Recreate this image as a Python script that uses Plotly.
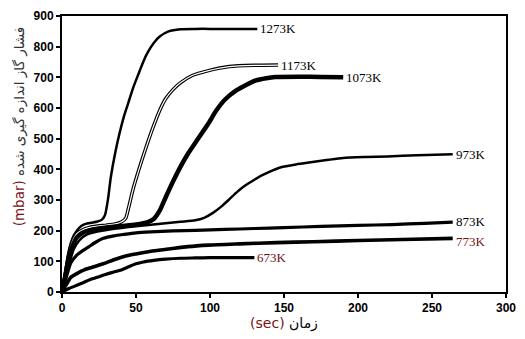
import plotly.graph_objects as go

# ---- data (time in sec, pressure in mbar) ----
x_1273 = [0, 2, 4, 6, 8, 10, 13, 16, 20, 24, 27, 29, 31, 33, 36, 39, 42, 45, 48, 52, 55, 58, 62, 66, 72, 80, 90, 100, 115, 132]
y_1273 = [0, 60, 120, 160, 185, 200, 215, 222, 226, 230, 236, 250, 300, 375, 455, 520, 575, 620, 665, 715, 752, 782, 812, 833, 850, 857, 858, 858, 858, 858]

x_1173 = [0, 2, 4, 6, 8, 10, 14, 18, 24, 30, 36, 40, 43, 45, 48, 52, 56, 61, 66, 70, 75, 80, 88, 99, 113, 130, 146]
y_1173 = [0, 55, 110, 150, 175, 190, 203, 210, 215, 218, 222, 228, 240, 275, 335, 400, 460, 530, 592, 630, 660, 682, 706, 722, 735, 739, 740]

x_1073 = [0, 2, 4, 6, 8, 10, 14, 18, 24, 30, 40, 50, 58, 62, 66, 70, 75, 80, 85, 91, 99, 104, 110, 118, 125, 131, 138, 144, 160, 175, 190]
y_1073 = [0, 45, 95, 135, 160, 178, 193, 200, 206, 210, 215, 220, 228, 238, 265, 308, 360, 408, 450, 493, 550, 590, 627, 658, 677, 690, 697, 701, 702, 701, 700]

x_973 = [0, 2, 5, 8, 12, 17, 25, 32, 40, 50, 60, 70, 80, 90, 96, 102, 108, 113, 118, 124, 130, 135, 142, 148, 158, 168, 180, 190, 205, 220, 240, 264]
y_973 = [0, 40, 95, 140, 170, 188, 198, 204, 209, 214, 219, 224, 229, 234, 242, 258, 280, 302, 325, 348, 366, 380, 396, 407, 416, 423, 431, 437, 440, 442, 446, 449]

x_873 = [0, 3, 6, 10, 14, 18, 23, 28, 35, 42, 50, 60, 75, 90, 110, 130, 150, 175, 200, 223, 245, 264]
y_873 = [0, 50, 95, 120, 135, 147, 163, 175, 183, 188, 193, 196, 199, 201, 204, 207, 210, 214, 217, 220, 224, 228]

x_773 = [0, 3, 6, 10, 15, 20, 28, 35, 42, 50, 60, 72, 85, 99, 120, 145, 170, 200, 230, 264]
y_773 = [0, 25, 48, 60, 72, 80, 92, 105, 116, 124, 133, 140, 148, 153, 157, 161, 164, 168, 171, 175]

x_673 = [0, 5, 10, 15, 20, 25, 30, 35, 40, 45, 50, 55, 62, 70, 80, 90, 100, 115, 130]
y_673 = [0, 12, 22, 32, 42, 50, 58, 65, 72, 82, 92, 98, 103, 107, 110, 111, 112, 112, 112]

labels = ["1273K", "1173K", "1073K", "973K", "873K", "773K", "673K"]
xs = [x_1273, x_1173, x_1073, x_973, x_873, x_773, x_673]
ys = [y_1273, y_1173, y_1073, y_973, y_873, y_773, y_673]
widths = [2.5, 3.5, 4.5, 2.5, 3.2, 3.6, 3.2]
label_colors = ["#000000", "#000000", "#000000", "#000000", "#000000", "#7a1212", "#6b1010"]
label_dy = [0, 0, 0, 0, 1, -3, 0]

x_ticks = [0, 50, 100, 150, 200, 250, 300]
y_ticks = [0, 100, 200, 300, 400, 500, 600, 700, 800, 900]

fig = go.Figure()
for lab, xv, yv, w in zip(labels, xs, ys, widths):
    fig.add_trace(go.Scatter(x=xv, y=yv, mode="lines", name=lab,
                             line=dict(color="black", width=w, shape="spline", smoothing=0.6),
                             showlegend=False))
    if lab == "1173K":
        fig.add_trace(go.Scatter(x=xv, y=yv, mode="lines", name=lab + " inner",
                                 line=dict(color="white", width=1.2, shape="spline", smoothing=0.6),
                                 showlegend=False))

for lab, xv, yv, c, dy in zip(labels, xs, ys, label_colors, label_dy):
    fig.add_annotation(x=xv[-1], y=yv[-1], text=lab, showarrow=False,
                       xanchor="left", yanchor="middle", xshift=1, yshift=dy,
                       font=dict(family="Liberation Serif", size=13, color=c))

# y-axis title (rotated, placed as in the reference)
fig.add_annotation(xref="paper", yref="paper", x=-0.097, y=0.60,
                   text='<span style="color:#7a1212">(mbar)</span> فشار گاز اندازه گیری شده',
                   textangle=-90, showarrow=False, xanchor="center", yanchor="middle",
                   font=dict(family="DejaVu Sans", size=13.5, color="#333333"))

fig.update_layout(
    width=525, height=339,
    margin=dict(l=62, r=9, t=11, b=47),
    paper_bgcolor="white", plot_bgcolor="white",
    xaxis=dict(range=[0, 300], tickvals=x_ticks, showgrid=False, zeroline=False,
               showline=True, linecolor="black", linewidth=2, mirror=True,
               ticks="outside", ticklen=4, tickwidth=1.5, tickcolor="black",
               tickfont=dict(family="Liberation Sans", size=12, color="black", weight="bold"),
               title=dict(text='<span style="color:#7a1212">(sec)</span> زمان',
                          font=dict(family="DejaVu Sans", size=14, color="black"),
                          standoff=3)),
    yaxis=dict(range=[0, 900], tickvals=y_ticks, showgrid=False, zeroline=False,
               showline=True, linecolor="black", linewidth=2, mirror=True,
               ticks="outside", ticklen=4, tickwidth=1.5, tickcolor="black",
               tickfont=dict(family="Liberation Sans", size=12, color="black", weight="bold")),
)

fig.write_html("out.html")
